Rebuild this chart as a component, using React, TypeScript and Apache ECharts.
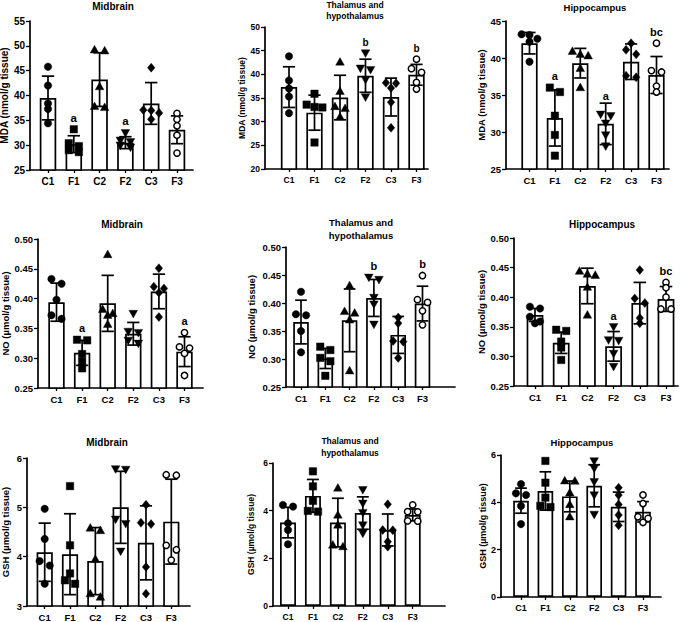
import React, { useEffect, useRef } from 'react';
import * as echarts from 'echarts';

const categories = ['C1', 'F1', 'C2', 'F2', 'C3', 'F3'];

// ---------- MDA ----------
const mdaMidbrainMean = [39.5, 30.2, 43.2, 30.5, 38.4, 33.1];
const mdaMidbrainSD = [4.4, 1.7, 5.4, 1.2, 4.2, 2.8];
const mdaMidbrainPoints = [
  [45.8, 42.0, 38.4, 37.3, 34.4],
  [33.2, 30.4, 29.8, 29.0, 28.6],
  [49.2, 49.0, 41.8, 37.8, 37.6],
  [32.5, 31.0, 30.7, 30.0, 29.6],
  [45.6, 37.1, 37.0, 36.5, 35.2],
  [36.4, 35.2, 33.9, 32.0, 28.4],
];
const mdaMidbrainLetters = ['', 'a', '', 'a', '', ''];

const mdaThalamusMean = [37.3, 31.9, 35.1, 39.7, 35.2, 39.9];
const mdaThalamusSD = [4.3, 3.7, 4.7, 3.5, 4.0, 2.2];
const mdaThalamusPoints = [
  [43.8, 38.7, 37.0, 35.3, 31.8],
  [35.9, 33.6, 33.1, 33.0, 25.6],
  [42.6, 36.4, 33.2, 32.8, 31.0],
  [44.5, 41.3, 41.0, 38.9, 35.2],
  [38.2, 38.1, 37.1, 34.1, 28.7],
  [43.2, 41.2, 40.4, 38.3, 36.9],
];
const mdaThalamusLetters = ['', '', '', 'b', '', 'b'];

const mdaHippocampusMean = [42.0, 31.9, 39.3, 31.1, 39.5, 37.7];
const mdaHippocampusSD = [1.45, 3.8, 2.0, 2.8, 2.4, 2.5];
const mdaHippocampusPoints = [
  [43.2, 43.1, 42.6, 42.2, 39.5],
  [36.0, 35.4, 32.2, 29.6, 26.8],
  [40.9, 40.5, 40.3, 38.6, 36.0],
  [32.4, 32.2, 31.2, 29.6, 28.1],
  [42.0, 41.1, 40.5, 37.6, 37.4],
  [42.0, 38.3, 38.1, 36.2, 35.4],
];
const mdaHippocampusLetters = ['', 'a', '', 'a', '', 'bc'];

// ---------- NO ----------
const noMidbrainMean = [0.394, 0.309, 0.392, 0.341, 0.412, 0.311];
const noMidbrainSD = [0.032, 0.021, 0.047, 0.019, 0.029, 0.025];
const noMidbrainPoints = [
  [0.433, 0.425, 0.398, 0.372, 0.366],
  [0.331, 0.330, 0.307, 0.294, 0.283],
  [0.474, 0.382, 0.375, 0.372, 0.357],
  [0.375, 0.345, 0.343, 0.330, 0.325],
  [0.451, 0.420, 0.417, 0.410, 0.369],
  [0.343, 0.319, 0.317, 0.308, 0.271],
];
const noMidbrainLetters = ['', 'a', '', '', '', 'a'];

const noThalamusMean = [0.366, 0.301, 0.369, 0.409, 0.343, 0.399];
const noThalamusSD = [0.039, 0.018, 0.056, 0.033, 0.033, 0.031];
const noThalamusPoints = [
  [0.420, 0.380, 0.378, 0.350, 0.312],
  [0.322, 0.316, 0.302, 0.296, 0.270],
  [0.431, 0.385, 0.382, 0.370, 0.279],
  [0.446, 0.442, 0.410, 0.398, 0.362],
  [0.374, 0.364, 0.332, 0.331, 0.302],
  [0.449, 0.406, 0.401, 0.386, 0.361],
];
const noThalamusLetters = ['', '', '', 'b', '', 'b'];

const noHippocampusMean = [0.370, 0.323, 0.419, 0.317, 0.390, 0.397];
const noHippocampusSD = [0.011, 0.018, 0.030, 0.025, 0.035, 0.021];
const noHippocampusPoints = [
  [0.384, 0.381, 0.367, 0.359, 0.356],
  [0.345, 0.343, 0.325, 0.315, 0.294],
  [0.444, 0.439, 0.437, 0.417, 0.370],
  [0.350, 0.328, 0.327, 0.305, 0.283],
  [0.446, 0.398, 0.390, 0.365, 0.356],
  [0.425, 0.416, 0.400, 0.380, 0.380],
];
const noHippocampusLetters = ['', '', '', 'a', '', 'bc'];

// ---------- GSH ----------
const gshMidbrainMean = [4.09, 4.05, 3.91, 5.0, 4.28, 4.71];
const gshMidbrainSD = [0.59, 0.82, 0.68, 0.73, 0.75, 0.86];
const gshMidbrainPoints = [
  [4.97, 4.36, 3.91, 3.82, 3.45],
  [5.43, 4.23, 3.66, 3.52, 3.45],
  [4.58, 4.53, 3.95, 3.25, 3.18],
  [5.78, 5.77, 4.76, 4.67, 4.11],
  [5.05, 4.69, 4.66, 3.79, 3.25],
  [5.66, 5.65, 4.23, 4.14, 3.93],
];
const gshMidbrainLetters = ['', '', '', '', '', ''];

const gshThalamusMean = [3.5, 4.62, 3.5, 3.9, 3.19, 3.82];
const gshThalamusSD = [0.64, 0.69, 1.02, 0.68, 0.67, 0.25];
const gshThalamusPoints = [
  [4.24, 4.17, 3.47, 3.19, 2.59],
  [5.65, 5.02, 4.41, 3.99, 3.96],
  [4.95, 3.82, 3.4, 2.56, 2.49],
  [4.88, 4.31, 3.92, 3.4, 3.05],
  [4.27, 3.19, 3.18, 2.7, 2.49],
  [4.24, 3.96, 3.95, 3.57, 3.56],
];
const gshThalamusLetters = ['', '', '', '', '', ''];

const gshHippocampusMean = [4.07, 4.48, 4.25, 4.7, 3.81, 3.6];
const gshHippocampusSD = [0.53, 0.81, 0.65, 0.89, 0.62, 0.43];
const gshHippocampusPoints = [
  [4.77, 4.38, 4.31, 3.85, 3.08],
  [5.75, 4.83, 4.2, 3.85, 3.8],
  [4.91, 4.9, 4.4, 3.91, 3.39],
  [5.75, 5.44, 4.87, 4.31, 3.49],
  [4.62, 4.31, 3.91, 3.46, 3.03],
  [4.31, 3.95, 3.39, 3.32, 3.15],
];
const gshHippocampusLetters = ['', '', '', '', '', ''];

const mdaName = 'MDA (nmol/g tissue)';
const noName = 'NO (µmol/g tissue)';
const gshName = 'GSH (µmol/g tissue)';
const thalTitle = 'Thalamus and\nhypothalamus';

const panels = [
  { title: 'Midbrain', yName: mdaName, yMin: 25, yMax: 55, yStep: 5, dec: 0, mean: mdaMidbrainMean, sd: mdaMidbrainSD, pts: mdaMidbrainPoints, letters: mdaMidbrainLetters },
  { title: thalTitle, yName: mdaName, yMin: 20, yMax: 50, yStep: 5, dec: 0, mean: mdaThalamusMean, sd: mdaThalamusSD, pts: mdaThalamusPoints, letters: mdaThalamusLetters },
  { title: 'Hippocampus', yName: mdaName, yMin: 25, yMax: 45, yStep: 5, dec: 0, mean: mdaHippocampusMean, sd: mdaHippocampusSD, pts: mdaHippocampusPoints, letters: mdaHippocampusLetters },
  { title: 'Midbrain', yName: noName, yMin: 0.25, yMax: 0.5, yStep: 0.05, dec: 2, mean: noMidbrainMean, sd: noMidbrainSD, pts: noMidbrainPoints, letters: noMidbrainLetters },
  { title: thalTitle, yName: noName, yMin: 0.25, yMax: 0.5, yStep: 0.05, dec: 2, mean: noThalamusMean, sd: noThalamusSD, pts: noThalamusPoints, letters: noThalamusLetters },
  { title: 'Hippocampus', yName: noName, yMin: 0.25, yMax: 0.5, yStep: 0.05, dec: 2, mean: noHippocampusMean, sd: noHippocampusSD, pts: noHippocampusPoints, letters: noHippocampusLetters },
  { title: 'Midbrain', yName: gshName, yMin: 3, yMax: 6, yStep: 1, dec: 0, mean: gshMidbrainMean, sd: gshMidbrainSD, pts: gshMidbrainPoints, letters: gshMidbrainLetters },
  { title: thalTitle, yName: gshName, yMin: 0, yMax: 6, yStep: 2, dec: 0, mean: gshThalamusMean, sd: gshThalamusSD, pts: gshThalamusPoints, letters: gshThalamusLetters },
  { title: 'Hippocampus', yName: gshName, yMin: 0, yMax: 6, yStep: 2, dec: 0, mean: gshHippocampusMean, sd: gshHippocampusSD, pts: gshHippocampusPoints, letters: gshHippocampusLetters },
];

// pixel layout of each panel (axis corner, ends, first/last category centre, fonts)
const layouts = [
  { ax: 30, end: 193, top: 21, bot: 170, c0: 48, c5: 177, fs: 10, tfs: 10, gap: 19, tx: 113, ty: 6, tl: 12 },
  { ax: 265, end: 428, top: 27, bot: 169, c0: 289, c5: 416.5, fs: 8.5, tfs: 8.5, gap: 10, tx: 355, ty: 5, tl: 11 },
  { ax: 506, end: 669, top: 21, bot: 169, c0: 529.5, c5: 656.5, fs: 9.5, tfs: 9.5, gap: 15, tx: 595, ty: 7, tl: 12 },
  { ax: 38, end: 203, top: 239, bot: 388, c0: 56.5, c5: 184.5, fs: 9.5, tfs: 10, gap: 27, tx: 122, ty: 224, tl: 12 },
  { ax: 286, end: 455, top: 247, bot: 387, c0: 301, c5: 422.5, fs: 9.5, tfs: 9.5, gap: 29, tx: 361, ty: 222.3, tl: 12.8 },
  { ax: 514, end: 678, top: 238, bot: 386, c0: 535, c5: 666, fs: 9.5, tfs: 10, gap: 21, tx: 602, ty: 224, tl: 12 },
  { ax: 27, end: 190, top: 458, bot: 606, c0: 44.7, c5: 171.3, fs: 9.5, tfs: 10, gap: 16, tx: 107, ty: 442, tl: 12 },
  { ax: 273, end: 445, top: 463, bot: 606, c0: 288, c5: 412.7, fs: 8.5, tfs: 8.5, gap: 17, tx: 350, ty: 441, tl: 11.7 },
  { ax: 501, end: 661, top: 455, bot: 597, c0: 521, c5: 643, fs: 9, tfs: 9.5, gap: 12, tx: 582, ty: 442, tl: 12 },
];

const FONT = '"Liberation Sans", Arial, sans-serif';
const SYM = 7.5;
const LW = 1.7;

function swarm(ys: number[], s: number): number[] {
  const idx = ys.map((_, i) => i).sort((a, b) => ys[a] - ys[b]);
  const offs = new Array(ys.length).fill(0);
  const rows: number[][] = [];
  let row: number[] = [idx[0]];
  for (let k = 1; k < idx.length; k++) {
    if (ys[idx[k]] - ys[row[0]] < s * 0.65) row.push(idx[k]);
    else {
      rows.push(row);
      row = [idx[k]];
    }
  }
  rows.push(row);
  rows.forEach((r) => {
    const n = r.length;
    const step = n === 2 ? s * 1.35 : s * 1.05;
    r.forEach((i, j) => {
      offs[i] = (j - (n - 1) / 2) * step;
    });
  });
  return offs;
}

function makeSymbol(kind: number, cx: number, cy: number, s: number) {
  const r = s / 2;
  const st = { fill: '#000', stroke: '#000', lineWidth: 0.4 };
  switch (kind) {
    case 0:
      return { type: 'circle', shape: { cx, cy, r }, style: st };
    case 1:
      return { type: 'rect', shape: { x: cx - r, y: cy - r, width: s, height: s }, style: st };
    case 2:
      return { type: 'polygon', shape: { points: [[cx, cy - r * 1.2], [cx + r * 1.15, cy + r * 0.85], [cx - r * 1.15, cy + r * 0.85]] }, style: st };
    case 3:
      return { type: 'polygon', shape: { points: [[cx, cy + r * 1.2], [cx + r * 1.15, cy - r * 0.85], [cx - r * 1.15, cy - r * 0.85]] }, style: st };
    case 4:
      return { type: 'polygon', shape: { points: [[cx, cy - r * 1.2], [cx + r, cy], [cx, cy + r * 1.2], [cx - r, cy]] }, style: st };
    default:
      return { type: 'circle', shape: { cx, cy, r: r - 0.6 }, style: { fill: '#fff', stroke: '#000', lineWidth: 1.5 } };
  }
}

function buildOption() {
  const grid: any[] = [];
  const xAxis: any[] = [];
  const yAxis: any[] = [];
  const series: any[] = [];
  const title: any[] = [];

  panels.forEach((P, i) => {
    const L = layouts[i];
    const sp = (L.c5 - L.c0) / 5;
    const xMin = (L.ax - L.c0) / sp;
    const xMax = 5 + (L.end - L.c5) / sp;
    const barW = sp * 0.64;
    const capHalf = sp * 0.24;

    grid.push({ left: L.ax, top: L.top, width: L.end - L.ax, height: L.bot - L.top, containLabel: false, outerBoundsMode: 'none' });
    title.push({
      text: P.title,
      left: L.tx,
      top: L.ty - L.tl / 2,
      textAlign: 'center',
      padding: 0,
      textStyle: { fontFamily: FONT, fontWeight: 'bold', fontSize: L.tfs, color: '#000', lineHeight: L.tl },
    });
    const catVals = [0, 1, 2, 3, 4, 5];
    xAxis.push({
      type: 'value',
      gridIndex: i,
      min: xMin,
      max: xMax,
      splitNumber: 6,
      splitLine: { show: false },
      axisLine: { show: true, onZero: false, lineStyle: { color: '#000', width: LW } },
      axisTick: { show: true, customValues: catVals, length: 3, lineStyle: { color: '#000', width: 1.3 } },
      axisLabel: {
        show: true,
        customValues: catVals,
        margin: 6.5,
        color: '#000',
        fontFamily: FONT,
        fontWeight: 'bold',
        fontSize: L.fs,
        formatter: (v: number) => {
          const k = Math.round(v);
          return Math.abs(v - k) < 1e-6 && k >= 0 && k < categories.length ? categories[k] : '';
        },
      },
    });
    yAxis.push({
      type: 'value',
      gridIndex: i,
      min: P.yMin,
      max: P.yMax,
      interval: P.yStep,
      name: P.yName,
      nameLocation: 'middle',
      nameGap: L.gap + 0.5,
      nameTextStyle: { fontFamily: FONT, fontWeight: 'bold', fontSize: L.fs, color: '#000' },
      splitLine: { show: false },
      axisLine: { show: true, onZero: false, lineStyle: { color: '#000', width: LW } },
      axisTick: { show: true, length: 4, lineStyle: { color: '#000', width: 1.3 } },
      axisLabel: {
        margin: 5,
        color: '#000',
        fontFamily: FONT,
        fontWeight: 'bold',
        fontSize: L.fs,
        formatter: (v: number) => v.toFixed(P.dec),
      },
    });

    series.push({
      type: 'bar',
      xAxisIndex: i,
      yAxisIndex: i,
      barWidth: barW,
      data: P.mean.map((m, g) => [g, m]),
      itemStyle: { color: '#fff', borderColor: '#000', borderWidth: LW },
      z: 2,
      silent: true,
    });

    series.push({
      type: 'custom',
      xAxisIndex: i,
      yAxisIndex: i,
      z: 3,
      silent: true,
      encode: { x: 0, y: 1 },
      data: P.mean.map((m, g) => [g, m, P.sd[g]]),
      renderItem: (_params: any, api: any) => {
        const g = api.value(0);
        const m = api.value(1);
        const sd = api.value(2);
        const pT = api.coord([g, m + sd]);
        const pB = api.coord([g, m - sd]);
        const st = { stroke: '#000', lineWidth: LW };
        return {
          type: 'group',
          children: [
            { type: 'line', shape: { x1: pT[0], y1: pT[1], x2: pB[0], y2: pB[1] }, style: st },
            { type: 'line', shape: { x1: pT[0] - capHalf, y1: pT[1], x2: pT[0] + capHalf, y2: pT[1] }, style: st },
            { type: 'line', shape: { x1: pB[0] - capHalf, y1: pB[1], x2: pB[0] + capHalf, y2: pB[1] }, style: st },
          ],
        };
      },
    });

    series.push({
      type: 'custom',
      xAxisIndex: i,
      yAxisIndex: i,
      z: 4,
      silent: true,
      encode: { x: 0, y: 1 },
      data: P.mean.map((m, g) => [g, m]),
      renderItem: (_params: any, api: any) => {
        const g = api.value(0);
        const vals = P.pts[g];
        const cx0 = api.coord([g, P.yMin])[0];
        const ys = vals.map((v) => api.coord([g, v])[1]);
        const offs = swarm(ys, SYM);
        const children: any[] = vals.map((_, k) => makeSymbol(g, cx0 + offs[k], ys[k], SYM));
        const letter = P.letters[g];
        if (letter) {
          const capTop = api.coord([g, P.mean[g] + P.sd[g]])[1];
          const top = Math.min(capTop, ...ys.map((y) => y - SYM / 2));
          children.push({
            type: 'text',
            style: {
              text: letter,
              x: cx0,
              y: top - 2,
              align: 'center',
              verticalAlign: 'bottom',
              fontFamily: FONT,
              fontWeight: 'bold',
              fontSize: L.fs + 1.5,
              fill: '#000',
            },
          });
        }
        return { type: 'group', children };
      },
    });
  });

  return { animation: false, backgroundColor: '#fff', title, grid, xAxis, yAxis, series };
}

export default function App() {
  const ref = useRef<HTMLDivElement>(null);
  useEffect(() => {
    if (!ref.current) return;
    const chart = echarts.init(ref.current, undefined, { renderer: 'svg' });
    chart.setOption(buildOption() as any);
    return () => chart.dispose();
  }, []);
  return (
    <div
      ref={ref}
      style={{ position: 'fixed', left: 0, top: 0, width: 685, height: 622, background: '#fff' }}
    />
  );
}
